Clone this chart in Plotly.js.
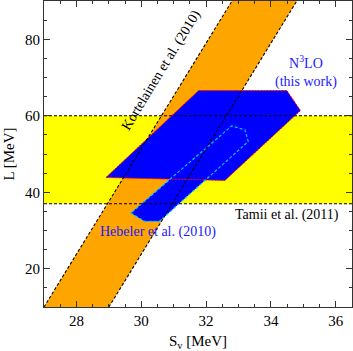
<!DOCTYPE html>
<html>
<head>
<meta charset="utf-8">
<script src="https://cdn.plot.ly/plotly-3.0.1.min.js"></script>
<style>
  html, body { margin: 0; padding: 0; background: #fff; }
  #chart { width: 353px; height: 351px; }
</style>
</head>
<body>
<div id="chart"></div>
<script>
// Tamii et al. (2011) band in L
const tamiiX = [27, 36.5, 36.5, 27];
const tamiiL = [37, 37, 60, 60];

// Kortelainen et al. (2010) band (parallelogram)
const kortX = [27.0, 32.82, 34.82, 29.0];
const kortL = [10, 90.3, 90.3, 10];

// Hebeler et al. (2010) region
const hebX = [29.68, 30.10, 30.56, 33.30, 33.20, 32.79, 29.68];
const hebL = [34.55, 32.4, 32.4, 53.25, 56.3, 57.35, 34.55];

// N3LO (this work) region
const n3loX = [28.91, 31.77, 34.49, 34.91, 32.58, 28.91];
const n3loL = [43.85, 66.6, 66.6, 61.35, 43.1, 43.85];

const xTicks = [28, 30, 32, 34, 36];
const yTicks = [20, 40, 60, 80];

const serif = '"Liberation Serif", "Times New Roman", serif';
const dash = '3px,2px';

const traces = [
  {x: tamiiX, y: tamiiL, type: 'scatter', mode: 'lines', fill: 'toself',
   fillcolor: '#ffff00', line: {width: 0}, hoverinfo: 'skip'},
  {x: kortX, y: kortL, type: 'scatter', mode: 'lines', fill: 'toself',
   fillcolor: '#ffa500', line: {width: 0}, hoverinfo: 'skip'},
  {x: hebX, y: hebL, type: 'scatter', mode: 'lines', fill: 'toself',
   fillcolor: '#0000ff', line: {width: 0}, hoverinfo: 'skip'},
  {x: n3loX, y: n3loL, type: 'scatter', mode: 'lines', fill: 'toself',
   fillcolor: '#0000ff', line: {color: '#ff0000', width: 1, dash: '2px,1px'}, hoverinfo: 'skip'},
  // Hebeler outline
  {x: hebX, y: hebL, type: 'scatter', mode: 'lines',
   line: {color: '#00c8ff', width: 1.2, dash: dash}, hoverinfo: 'skip'},
  // Tamii limits
  {x: [tamiiX[0], tamiiX[1]], y: [tamiiL[0], tamiiL[1]], type: 'scatter', mode: 'lines',
   line: {color: '#000', width: 1.1, dash: dash}, hoverinfo: 'skip'},
  {x: [tamiiX[3], tamiiX[2]], y: [tamiiL[3], tamiiL[2]], type: 'scatter', mode: 'lines',
   line: {color: '#000', width: 1.1, dash: dash}, hoverinfo: 'skip'},
  // Kortelainen limits
  {x: [kortX[0], kortX[1]], y: [kortL[0], kortL[1]], type: 'scatter', mode: 'lines',
   line: {color: '#000', width: 1.1, dash: dash}, hoverinfo: 'skip'},
  {x: [kortX[3], kortX[2]], y: [kortL[3], kortL[2]], type: 'scatter', mode: 'lines',
   line: {color: '#000', width: 1.1, dash: dash}, hoverinfo: 'skip'}
];

const axisCommon = {
  showline: true,
  linecolor: '#333',
  linewidth: 1,
  mirror: 'ticks',
  ticks: 'inside',
  ticklen: 6,
  tickcolor: '#333',
  showgrid: false,
  zeroline: false,
  tickfont: {family: serif, size: 15, color: '#000'}
};

const layout = {
  width: 353,
  height: 351,
  margin: {l: 44, r: 1, t: 1, b: 44},
  paper_bgcolor: '#fff',
  plot_bgcolor: '#fff',
  showlegend: false,
  font: {family: serif, color: '#000'},
  xaxis: Object.assign({}, axisCommon, {
    range: [27, 36.5],
    tickvals: xTicks,
    minor: {dtick: 0.5, ticks: 'inside', ticklen: 3, tickcolor: '#333'},
    title: {text: 'S<sub>v</sub> [MeV]', font: {family: serif, size: 15}, standoff: 8}
  }),
  yaxis: Object.assign({}, axisCommon, {
    range: [10, 90],
    tickvals: yTicks,
    minor: {dtick: 5, ticks: 'inside', ticklen: 3, tickcolor: '#333'},
    title: {text: 'L [MeV]', font: {family: serif, size: 15}, standoff: 6}
  }),
  annotations: [
    {x: 30.62, y: 72, text: 'Kortelainen et al. (2010)', showarrow: false, textangle: -58.5,
     font: {family: serif, size: 14, color: '#000'}},
    {x: 35.09, y: 71.6, text: 'N<sup>3</sup>LO<br>(this work)', showarrow: false,
     font: {family: serif, size: 14, color: '#1a1aff'}},
    {x: 34.49, y: 34.1, text: 'Tamii et al. (2011)', showarrow: false,
     font: {family: serif, size: 14, color: '#000'}},
    {x: 30.51, y: 29.66, text: 'Hebeler et al. (2010)', showarrow: false,
     font: {family: serif, size: 14, color: '#1a1aff'}}
  ]
};

Plotly.newPlot('chart', traces, layout, {displayModeBar: false, staticPlot: true});
</script>
</body>
</html>
